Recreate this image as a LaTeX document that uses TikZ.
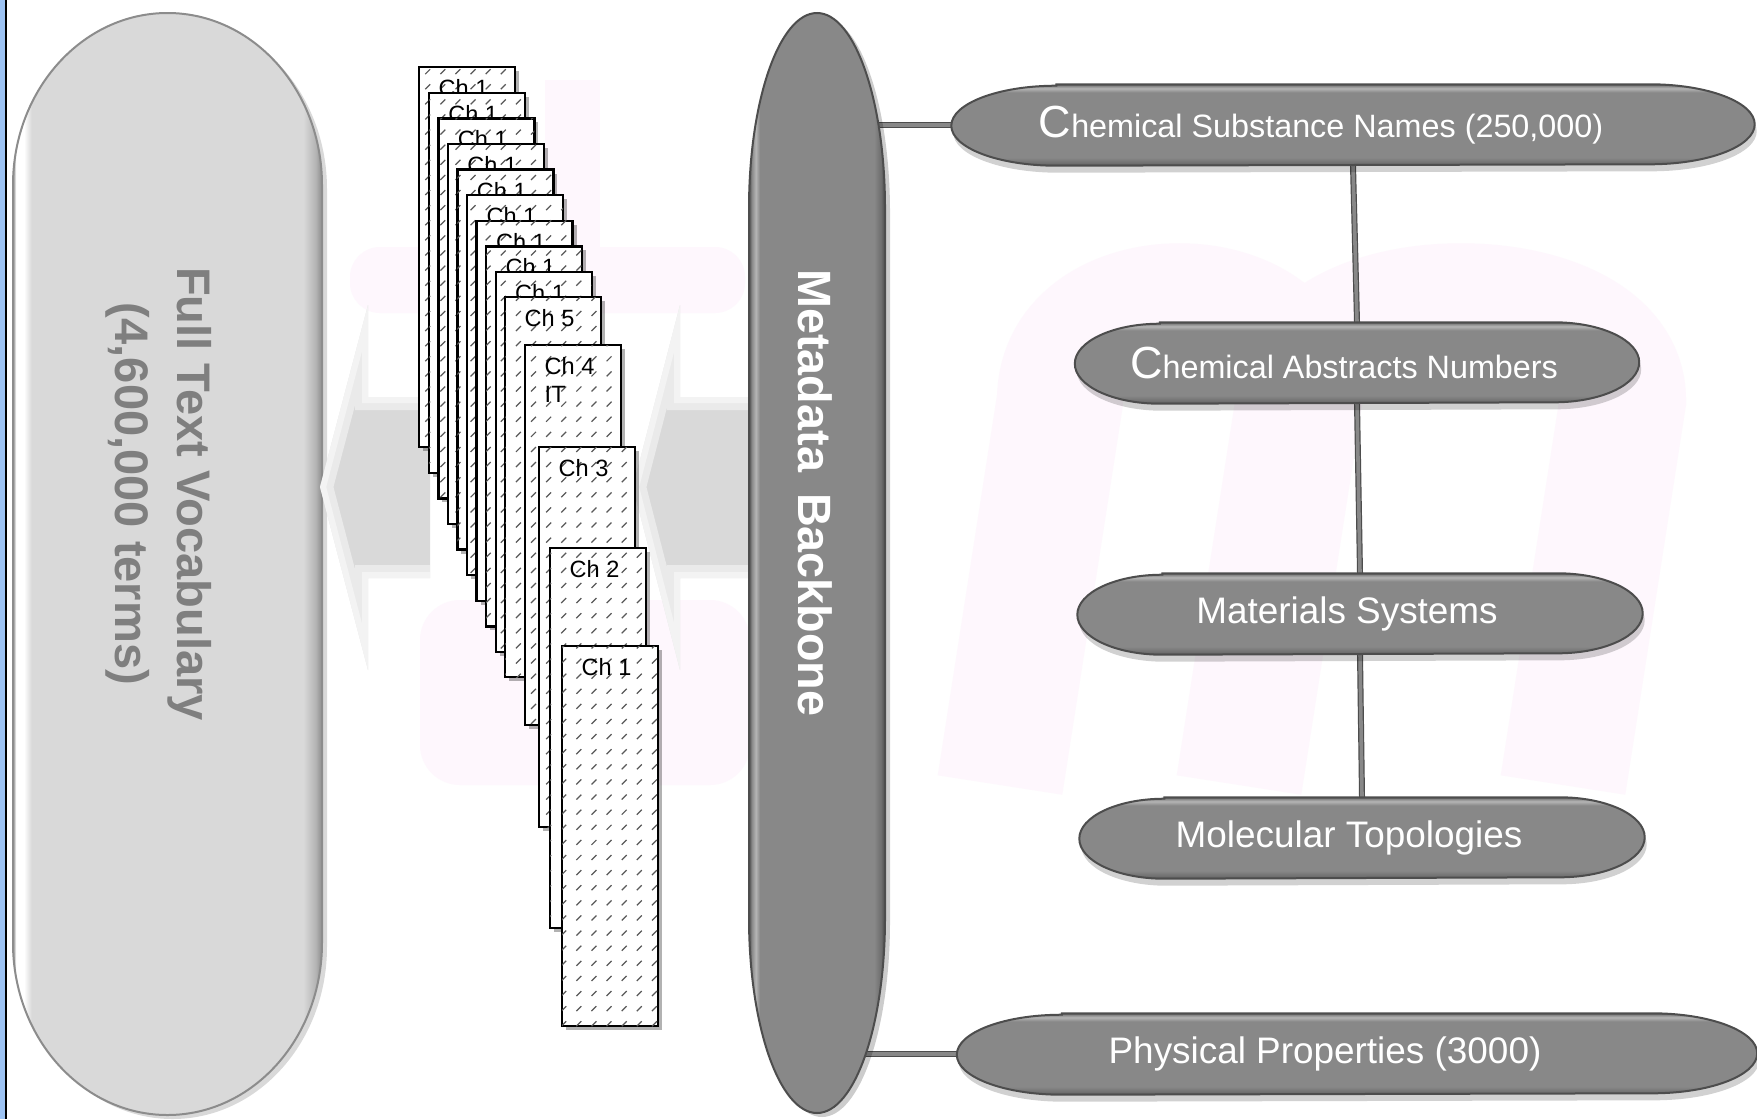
\documentclass[tikz,border=0pt]{standalone}
\usepackage{fontspec}
\setmainfont{Liberation Sans}
\usepackage{tikz}
\usetikzlibrary{calc,patterns,shadows}

\definecolor{pillgray}{HTML}{888888}
\definecolor{pilldark}{HTML}{4D4D4D}
\definecolor{pillshade}{HTML}{6E6E6E}
\definecolor{pilllight}{HTML}{B5B5B5}
\definecolor{vocabfill}{HTML}{D9D9D9}
\definecolor{vocabedge}{HTML}{8C8C8C}
\definecolor{vocabshade}{HTML}{B3B3B3}
\definecolor{vocabgray}{HTML}{7F7F7F}
\definecolor{arrowgray}{HTML}{D9D9D9}
\definecolor{markpink}{HTML}{FEF7FD}
\definecolor{framefill}{HTML}{9DC3F3}

\pgfdeclareverticalshading{pillbevel}{100bp}{color(0bp)=(pilldark); color(25bp)=(pilldark); color(26.5bp)=(pillshade); color(30bp)=(pillgray); color(70bp)=(pillgray); color(72.5bp)=(pilllight); color(74bp)=(pillgray); color(75bp)=(pilldark); color(100bp)=(pilldark)}
\pgfdeclarehorizontalshading{bbbevel}{100bp}{color(0bp)=(pilldark); color(25bp)=(pilldark); color(26bp)=(pillgray); color(27.5bp)=(pilllight); color(29bp)=(pillgray); color(71bp)=(pillgray); color(73.5bp)=(pillshade); color(75bp)=(pilldark); color(100bp)=(pilldark)}
\pgfdeclarehorizontalshading{vocabbevel}{100bp}{color(0bp)=(vocabedge); color(25bp)=(vocabedge); color(25.5bp)=(white); color(26.8bp)=(white); color(28bp)=(vocabfill); color(72bp)=(vocabfill); color(74bp)=(vocabshade); color(75bp)=(vocabedge); color(100bp)=(vocabedge)}

\pgfdeclarepatternformonly{chdash}{\pgfqpoint{-0.5pt}{-0.5pt}}{\pgfqpoint{4.8pt}{4.8pt}}{\pgfqpoint{4.3pt}{4.3pt}}{%
	\pgfsetlinewidth{0.35pt}%
	\pgfpathmoveto{\pgfqpoint{0.6pt}{0.6pt}}%
	\pgfpathlineto{\pgfqpoint{2.0pt}{2.0pt}}%
	\pgfusepath{stroke}%
}

\pgfdeclarelayer{back}
\pgfdeclarelayer{links}
\pgfdeclarelayer{shapes}
\pgfsetlayers{back,links,shapes,main}

\tikzstyle{card}=[
	draw=black,
	line width=0.24mm,
	fill=white,
	anchor=north west,
	inner sep=0,
	minimum width=9.6mm,
	minimum height=38mm,
	postaction={pattern=chdash, pattern color=black!65},
	drop shadow={shadow xshift=0.4mm, shadow yshift=-0.4mm, fill=black, opacity=0.3}
]
\tikzstyle{chlabel}=[
	anchor=north west,
	xshift=2mm,
	yshift=-1.3mm,
	inner sep=0,
	align=left,
	font=\fontsize{6.7}{8}\selectfont
]
\tikzstyle{pill}=[
	minimum height=8mm,
	inner sep=0,
	text=white,
	font=\fontsize{10.5}{12.5}\selectfont
]
\tikzstyle{pillsmall}=[
	pill,
	font=\fontsize{9.2}{11}\selectfont
]
\tikzstyle{pillbody}=[
	shading=pillbevel,
	draw=pilldark,
	line width=0.2mm,
	drop shadow={shadow xshift=0.2mm, shadow yshift=-0.7mm, fill=black, opacity=0.18}
]
\tikzstyle{bbbody}=[
	shading=bbbevel,
	draw=pilldark,
	line width=0.2mm,
	drop shadow={shadow xshift=0.5mm, shadow yshift=-0.4mm, fill=black, opacity=0.2}
]
\tikzstyle{vocabbody}=[
	shading=vocabbevel,
	draw=vocabedge,
	line width=0.2mm,
	drop shadow={shadow xshift=0.5mm, shadow yshift=-0.4mm, fill=black, opacity=0.15}
]
\tikzstyle{link}=[
	draw=pilldark,
	line width=0.12mm,
	double=pillgray,
	double distance=0.36mm
]
\tikzstyle{vocab}=[
	align=center,
	inner sep=0,
	text=vocabgray,
	font=\bfseries\fontsize{13.4}{17.6}\selectfont
]
\tikzstyle{backbone}=[
	inner sep=0,
	text=white,
	font=\bfseries\fontsize{13.3}{16}\selectfont
]
\tikzstyle{softedge}=[
	white,
	opacity=0.45,
	line join=miter
]

\newcommand{\capC}{{\fontsize{12.8}{14}\selectfont C}}
\newcommand{\pillshape}[2]{%
	\path[pillbody] ($(#1.north west)+(#2mm,0)$) -- ($(#1.north east)+(-#2mm,0)$)
		arc[start angle=90, end angle=-90, x radius=#2mm, y radius=4mm]
		-- ($(#1.south west)+(#2mm,0)$)
		arc[start angle=270, end angle=90, x radius=#2mm, y radius=4mm] -- cycle;
}
\newcommand{\arrowLeft}{(320,487) -- (368,305) -- (368,397) -- (430,397) -- (430,578) -- (368,578) -- (368,670) -- cycle}
\newcommand{\arrowRight}{(633,487) -- (680,305) -- (680,397) -- (760,397) -- (760,578) -- (680,578) -- (680,670) -- cycle}

\begin{document}
\begin{tikzpicture}[x=0.1mm,y=-0.1mm]
\useasboundingbox (0,0) rectangle (1757,1119);

\node[vocab, rotate=-90] (ftv) at (159,494) {Full Text Vocabulary\\(4,600,000 terms)};
\node[backbone, rotate=-90] (bb) at (815,493) {Metadata\hspace{0.45em}Backbone};

\node[card, label={[chlabel]north west:Ch 1}] (p1) at (418,66) {};
\node[card, label={[chlabel]north west:Ch 1}] (p2) at (427.6,91.6) {};
\node[card, label={[chlabel]north west:Ch 1}] (p3) at (437.1,117.2) {};
\node[card, label={[chlabel]north west:Ch 1}] (p4) at (446.7,142.8) {};
\node[card, label={[chlabel]north west:Ch 1}] (p5) at (456.2,168.4) {};
\node[card, label={[chlabel]north west:Ch 1}] (p6) at (465.8,194) {};
\node[card, label={[chlabel]north west:Ch 1}] (p7) at (475.4,219.6) {};
\node[card, label={[chlabel]north west:Ch 1}] (p8) at (484.9,245.2) {};
\node[card, label={[chlabel]north west:Ch 1}] (p9) at (494.5,270.8) {};
\node[card, label={[chlabel]north west:Ch 5}] (ch5) at (504,296) {};
\node[card, label={[chlabel]north west:Ch 4\\IT}] (ch4) at (524,344) {};
\node[card, label={[chlabel]north west:Ch 3}] (ch3) at (538,446) {};
\node[card, label={[chlabel]north west:Ch 2}] (ch2) at (549,547) {};
\node[card, label={[chlabel]north west:Ch 1}] (ch1) at (561,645) {};

\node[pillsmall, minimum width=80.2mm] (csn) at (1353,125) {\capC hemical Substance Names (250,000)\hspace*{6.4mm}};
\node[pillsmall, minimum width=56.3mm] (can) at (1357,363) {\capC hemical Abstracts Numbers\hspace*{2.6mm}};
\node[pill, minimum width=56.4mm] (ms) at (1360,614) {Materials Systems\hspace*{2.6mm}};
\node[pill, minimum width=56.4mm] (mt) at (1362,838) {Molecular Topologies\hspace*{2.6mm}};
\node[pill, minimum width=79.9mm] (pp) at (1357,1054) {Physical Properties (3000)\hspace*{6.4mm}};

\begin{pgfonlayer}{back}
\fill[white] (0,0) rectangle (1757,1119);
\fill[markpink, rounded corners=3mm] (350,247) rectangle (745,313);
\fill[markpink] (545,80) rectangle (600,300);
\fill[markpink, rounded corners=4mm] (420,600) rectangle (750,785);
\draw[markpink, line width=12.6mm] (1000,785) -- (1060,400) .. controls (1060,275) and (1299,275) .. (1299,400) -- (1239,785);
\draw[markpink, line width=12.6mm] (1299,400) .. controls (1299,275) and (1623,275) .. (1623,400) -- (1563,785);
\fill[framefill] (0,0) rectangle (4.5,1119);
\draw[black, line width=0.25mm] (5.8,0) -- (5.8,1119);
\path[vocabbody] (13,185) -- (13,943) arc[start angle=180, end angle=360, x radius=15.45mm, y radius=17.2mm] -- (322,185) arc[start angle=0, end angle=180, x radius=15.45mm, y radius=17.2mm] -- cycle;
\fill[arrowgray] \arrowLeft;
\fill[arrowgray] \arrowRight;
\begin{scope}
\clip \arrowLeft;
\draw[softedge, line width=2.6mm] (430,397) -- (368,397) -- (368,305) -- (320,487) -- (368,670) -- (368,578) -- (430,578);
\draw[softedge, line width=1.2mm] (430,397) -- (368,397) -- (368,305) -- (320,487) -- (368,670) -- (368,578) -- (430,578);
\end{scope}
\begin{scope}
\clip \arrowRight;
\draw[softedge, line width=2.6mm] (760,397) -- (680,397) -- (680,305) -- (633,487) -- (680,670) -- (680,578) -- (760,578);
\draw[softedge, line width=1.2mm] (760,397) -- (680,397) -- (680,305) -- (633,487) -- (680,670) -- (680,578) -- (760,578);
\end{scope}
\end{pgfonlayer}

\begin{pgfonlayer}{links}
\draw[link] (bb.center |- csn.west) -- ($(csn.west)+(8,0)$);
\draw[link] (bb.center |- pp.west) -- ($(pp.west)+(8,0)$);
\draw[link] (csn.south) -- (can.north);
\draw[link] (can.south) -- (ms.north);
\draw[link] (ms.south) -- (mt.north);
\end{pgfonlayer}

\begin{pgfonlayer}{shapes}
\path[bbbody] (749,208) -- (749,918) arc[start angle=180, end angle=360, x radius=6.8mm, y radius=19.5mm] -- (885,208) arc[start angle=0, end angle=180, x radius=6.8mm, y radius=19.5mm] -- cycle;
\foreach \pname/\pend in {csn/10.5, can/8.5, ms/8.5, mt/8.5, pp/10.5} {
	\pillshape{\pname}{\pend}
}
\end{pgfonlayer}

\end{tikzpicture}
\end{document}
